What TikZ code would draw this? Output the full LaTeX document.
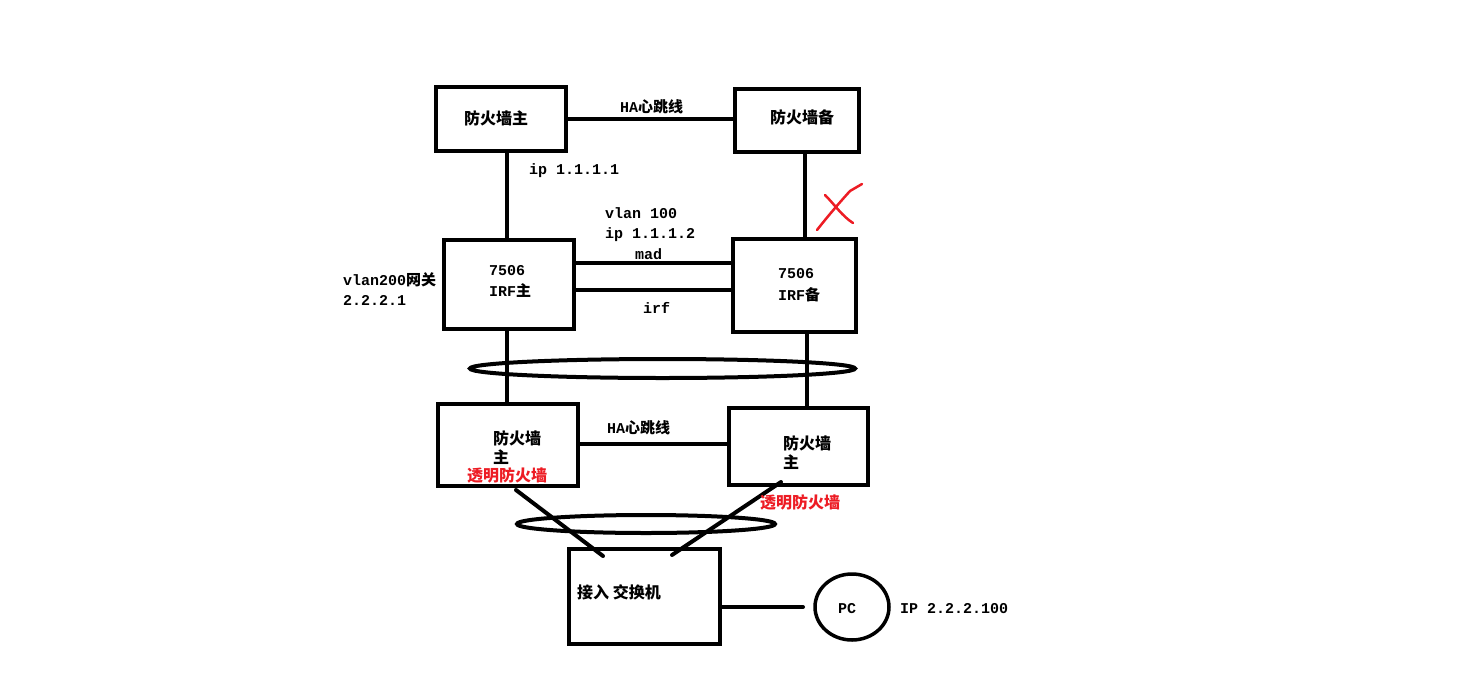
\documentclass[tikz,border=0pt]{standalone}
\usepackage{fontspec}
\setmainfont{Liberation Mono}
\newfontfamily\cjk{Noto Sans CJK SC}
\usetikzlibrary{shapes.geometric}
\definecolor{mspred}{RGB}{237,28,36}
\tikzset{
  box/.style={draw, line width=4pt, inner sep=0pt, rectangle},
  link/.style={line width=4pt},
  lagg/.style={line width=4pt},
  lbl/.style={anchor=base west, inner sep=0pt, font=\fontsize{15}{15}\selectfont\bfseries},
  zh/.style={anchor=base west, inner sep=0pt, font=\fontsize{16}{16}\selectfont\cjk\bfseries},
  redzh/.style={zh, text=mspred},
}
\begin{document}
\begin{tikzpicture}[x=1pt,y=-1pt]
\fill[white] (0,0) rectangle (1484,686);
\useasboundingbox (0,0) rectangle (1484,686);

% boxes
\node[box, minimum width=130pt, minimum height=64pt] (fwm) at (501,119) {};
\node[box, minimum width=124pt, minimum height=63pt] (fwb) at (797,120.5) {};
\node[box, minimum width=130pt, minimum height=89pt] (irfm) at (509,284.5) {};
\node[box, minimum width=123pt, minimum height=93pt] (irfb) at (794.5,285.5) {};
\node[box, minimum width=140pt, minimum height=82pt] (fwl) at (508,445) {};
\node[box, minimum width=139pt, minimum height=77pt] (fwr) at (798.5,446.5) {};
\node[box, minimum width=151pt, minimum height=95pt] (sw) at (644.5,596.5) {};
\node[draw, ellipse, line width=3.5pt, inner sep=0pt, minimum width=74pt, minimum height=66pt] (pc) at (852,607) {};

% helper coordinates
\coordinate (vx1) at (507,0);
\coordinate (vx2) at (805,0);
\coordinate (vx3) at (807,0);
\coordinate (madY) at (0,263);
\coordinate (irfY) at (0,290);
\coordinate (haY) at (0,444);
\coordinate (pcY) at (0,607);
\coordinate (pcL) at (803,607);
\coordinate (d1a) at (516,490);
\coordinate (d1b) at (603,556);
\coordinate (d2a) at (781,482);
\coordinate (d2b) at (672,555);

% connectors
\draw[link] (fwm.east) -- (fwb.west |- fwm.east);
\draw[link] (fwm.south -| vx1) -- (irfm.north -| vx1);
\draw[link] (fwb.south -| vx2) -- (irfb.north -| vx2);
\draw[link, line cap=round] ([xshift=-2pt]irfm.east |- madY) -- ([xshift=2pt]irfb.west |- madY);
\draw[link] (irfm.east |- irfY) -- (irfb.west |- irfY);
\draw[link] (irfm.south -| vx1) -- (fwl.north -| vx1);
\draw[link] (irfb.south -| vx3) -- (fwr.north -| vx3);
\draw[link] (fwl.east |- haY) -- (fwr.west |- haY);
\draw[link, line cap=round] (d1a) -- (d1b);
\draw[link, line cap=round] (d2a) -- (d2b);
\draw[link, line cap=round] (sw.east |- pcY) -- (pcL);

% link aggregation ellipses
\draw[lagg] (662.5,368.5) ellipse [x radius=192.5pt, y radius=9.5pt];
\draw[lagg] (646,524) ellipse [x radius=129pt, y radius=9pt];

% red X
\draw[mspred, line width=2.5pt, line cap=round] (817,230) .. controls (828,216) and (840,202) .. (850,191) -- (862,184);
\draw[mspred, line width=2.5pt, line cap=round] (825,195) .. controls (835,205) and (842,216) .. (853,223);

% texts
\node[zh] (t1) at (464,124) {防火墙主};
\node[lbl] (t2) at (620,112) {HA{\cjk 心跳线}};
\node[zh] (t3) at (770,123) {防火墙备};
\node[lbl] (t4) at (529,174) {ip 1.1.1.1};
\node[lbl] (t5) at (605,218) {vlan 100};
\node[lbl] (t6) at (605,238) {ip 1.1.1.2};
\node[lbl] (t7) at (635,259) {mad};
\node[lbl] (t8) at (489,275) {7506};
\node[lbl] (t9) at (489,296) {IRF{\cjk 主}};
\node[lbl] (t10) at (343,285) {vlan200{\cjk 网关}};
\node[lbl] (t11) at (343,305) {2.2.2.1};
\node[lbl] (t12) at (643,313) {irf};
\node[lbl] (t13) at (778,278) {7506};
\node[lbl] (t14) at (778,300) {IRF{\cjk 备}};
\node[lbl] (t15) at (607,433) {HA{\cjk 心跳线}};
\node[zh] (t16) at (493,444) {防火墙};
\node[zh] (t17) at (493,463) {主};
\node[redzh] (t18) at (467,481) {透明防火墙};
\node[zh] (t19) at (783,449) {防火墙};
\node[zh] (t20) at (783,468) {主};
\node[redzh] (t21) at (760,508) {透明防火墙};
\node[zh] (t22) at (577,598) {接入 交换机};
\node[lbl] (t23) at (838,613) {PC};
\node[lbl] (t24) at (900,613) {IP 2.2.2.100};
\end{tikzpicture}
\end{document}
